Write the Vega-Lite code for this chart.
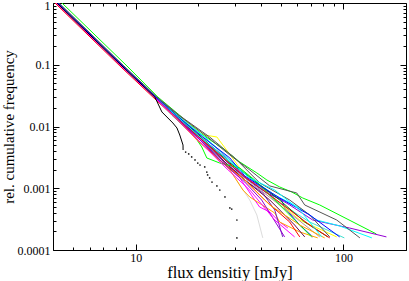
{
  "$schema": "https://vega.github.io/schema/vega-lite/v6.json",
  "width": 353,
  "height": 247,
  "autosize": {"type": "none"},
  "padding": {"left": 53, "top": 3, "right": 3, "bottom": 31},
  "background": "white",
  "config": {"view": {"stroke": "black", "strokeWidth": 1}, "font": "Liberation Serif"},
  "datasets": {
    "lines": [
      {"s":"s02","x":4.23,"y":1},{"s":"s02","x":8.68,"y":0.0955},{"s":"s02","x":12.5,"y":0.03},{"s":"s02","x":15.6,"y":0.0154},{"s":"s02","x":20.4,"y":0.00676},{"s":"s02","x":24.0,"y":0.00416},{"s":"s02","x":28.4,"y":0.00198},{"s":"s02","x":35.4,"y":0.000645},{"s":"s02","x":38.3,"y":0.000369},{"s":"s02","x":40.9,"y":0.000157},
      {"s":"s03","x":4.42,"y":1},{"s":"s03","x":9.08,"y":0.0955},{"s":"s03","x":12.79,"y":0.03},{"s":"s03","x":16.2,"y":0.0154},{"s":"s03","x":20.4,"y":0.00785},{"s":"s03","x":26.9,"y":0.00416},{"s":"s03","x":31.7,"y":0.00266},{"s":"s03","x":38.3,"y":0.00177},{"s":"s03","x":42.8,"y":0.00136},{"s":"s03","x":49.3,"y":0.00105},{"s":"s03","x":56.4,"y":0.000869},{"s":"s03","x":63.7,"y":0.000695},{"s":"s03","x":76.9,"y":0.000536},{"s":"s03","x":144,"y":0.000182},
      {"s":"s04","x":4.18,"y":1},{"s":"s04","x":8.59,"y":0.0955},{"s":"s04","x":12.37,"y":0.03},{"s":"s04","x":15.4,"y":0.0154},{"s":"s04","x":20.4,"y":0.00676},{"s":"s04","x":26.9,"y":0.00287},{"s":"s04","x":33.5,"y":0.00147},{"s":"s04","x":42.8,"y":0.000838},{"s":"s04","x":50.4,"y":0.000645},{"s":"s04","x":52.1,"y":0.000479},{"s":"s04","x":61.6,"y":0.000254},{"s":"s04","x":71.1,"y":0.000163},
      {"s":"s05","x":4.23,"y":1},{"s":"s05","x":8.68,"y":0.0955},{"s":"s05","x":12.5,"y":0.03},{"s":"s05","x":15.9,"y":0.0154},{"s":"s05","x":21.5,"y":0.00728},{"s":"s05","x":24.6,"y":0.00676},{"s":"s05","x":31.7,"y":0.00213},{"s":"s05","x":44.2,"y":0.000778},{"s":"s05","x":61.6,"y":0.000306},{"s":"s05","x":92.8,"y":0.000163},
      {"s":"s06","x":4.18,"y":1},{"s":"s06","x":8.59,"y":0.0955},{"s":"s06","x":12.37,"y":0.03},{"s":"s06","x":15.3,"y":0.0154},{"s":"s06","x":20.4,"y":0.00676},{"s":"s06","x":27.8,"y":0.00238},{"s":"s06","x":33.5,"y":0.00147},{"s":"s06","x":49.3,"y":0.000536},{"s":"s06","x":76.9,"y":0.000163},
      {"s":"s07","x":4.18,"y":1},{"s":"s07","x":8.59,"y":0.0955},{"s":"s07","x":12.37,"y":0.03},{"s":"s07","x":15.5,"y":0.0154},{"s":"s07","x":20.4,"y":0.00676},{"s":"s07","x":26.9,"y":0.00321},{"s":"s07","x":33.5,"y":0.00152},{"s":"s07","x":44.2,"y":0.000838},{"s":"s07","x":55.1,"y":0.000536},{"s":"s07","x":71.1,"y":0.000306},{"s":"s07","x":107,"y":0.000227},{"s":"s07","x":161,"y":0.000163},
      {"s":"s08","x":4.23,"y":1},{"s":"s08","x":8.68,"y":0.0955},{"s":"s08","x":12.5,"y":0.03},{"s":"s08","x":15.8,"y":0.0154},{"s":"s08","x":21.5,"y":0.00676},{"s":"s08","x":28.4,"y":0.00287},{"s":"s08","x":35.4,"y":0.00147},{"s":"s08","x":46.7,"y":0.000778},{"s":"s08","x":61.6,"y":0.000479},{"s":"s08","x":74.3,"y":0.000306},{"s":"s08","x":95.9,"y":0.000245},{"s":"s08","x":137,"y":0.000157},
      {"s":"s09","x":4.14,"y":1},{"s":"s09","x":8.49,"y":0.0955},{"s":"s09","x":12.24,"y":0.03},{"s":"s09","x":15.1,"y":0.0154},{"s":"s09","x":19.9,"y":0.00676},{"s":"s09","x":26.9,"y":0.00238},{"s":"s09","x":31.7,"y":0.00147},{"s":"s09","x":37.4,"y":0.000645},{"s":"s09","x":39.5,"y":0.000497},{"s":"s09","x":44.2,"y":0.000412},{"s":"s09","x":49.3,"y":0.000284},{"s":"s09","x":54.0,"y":0.000227},
      {"s":"s10","x":4.18,"y":1},{"s":"s10","x":8.59,"y":0.0955},{"s":"s10","x":12.37,"y":0.03},{"s":"s10","x":15.2,"y":0.0154},{"s":"s10","x":20.4,"y":0.00604},{"s":"s10","x":28.4,"y":0.00198},{"s":"s10","x":32.8,"y":0.000937},{"s":"s10","x":35.4,"y":0.000722},{"s":"s10","x":46.7,"y":0.000397},{"s":"s10","x":49.3,"y":0.000284},{"s":"s10","x":61.6,"y":0.000196},{"s":"s10","x":75.2,"y":0.000157},
      {"s":"s11","x":4.14,"y":1},{"s":"s11","x":8.49,"y":0.0955},{"s":"s11","x":12.24,"y":0.03},{"s":"s11","x":15.0,"y":0.0154},{"s":"s11","x":19.7,"y":0.00676},{"s":"s11","x":26.0,"y":0.00287},{"s":"s11","x":33.5,"y":0.00136},{"s":"s11","x":40.9,"y":0.000838},{"s":"s11","x":46.7,"y":0.000445},{"s":"s11","x":51.0,"y":0.000163},
      {"s":"s12","x":4.18,"y":1},{"s":"s12","x":8.59,"y":0.0955},{"s":"s12","x":12.37,"y":0.03},{"s":"s12","x":15.4,"y":0.0154},{"s":"s12","x":20.4,"y":0.00651},{"s":"s12","x":26.9,"y":0.00266},{"s":"s12","x":33.5,"y":0.00136},{"s":"s12","x":44.2,"y":0.000645},{"s":"s12","x":58.2,"y":0.000254},{"s":"s12","x":65.1,"y":0.000163},
      {"s":"s13","x":4.23,"y":1},{"s":"s13","x":8.68,"y":0.0955},{"s":"s13","x":12.5,"y":0.03},{"s":"s13","x":15.7,"y":0.0154},{"s":"s13","x":21.5,"y":0.00651},{"s":"s13","x":28.4,"y":0.00287},{"s":"s13","x":34.6,"y":0.00158},{"s":"s13","x":46.7,"y":0.000645},{"s":"s13","x":68.8,"y":0.000284},{"s":"s13","x":101,"y":0.000157},
      {"s":"s14","x":4.18,"y":1},{"s":"s14","x":8.59,"y":0.0955},{"s":"s14","x":12.37,"y":0.03},{"s":"s14","x":15.6,"y":0.0154},{"s":"s14","x":20.4,"y":0.00702},{"s":"s14","x":28.4,"y":0.00256},{"s":"s14","x":35.4,"y":0.00152},{"s":"s14","x":49.3,"y":0.000645},{"s":"s14","x":65.1,"y":0.000284},{"s":"s14","x":84.0,"y":0.000163},
      {"s":"s15","x":4.23,"y":1},{"s":"s15","x":8.68,"y":0.0955},{"s":"s15","x":12.5,"y":0.03},{"s":"s15","x":16.0,"y":0.0154},{"s":"s15","x":22.2,"y":0.00676},{"s":"s15","x":28.4,"y":0.00345},{"s":"s15","x":35.4,"y":0.00198},{"s":"s15","x":44.2,"y":0.00109},{"s":"s15","x":59.6,"y":0.000838},{"s":"s15","x":65.1,"y":0.000536},{"s":"s15","x":92.8,"y":0.000306},{"s":"s15","x":120,"y":0.000157},
      {"s":"s16","x":4.14,"y":1},{"s":"s16","x":8.49,"y":0.0955},{"s":"s16","x":12.24,"y":0.03},{"s":"s16","x":14.9,"y":0.0154},{"s":"s16","x":19.3,"y":0.00676},{"s":"s16","x":20.8,"y":0.00466},{"s":"s16","x":22.0,"y":0.00309},{"s":"s16","x":25.4,"y":0.00256},{"s":"s16","x":31.7,"y":0.00213},{"s":"s16","x":37.4,"y":0.00136},{"s":"s16","x":46.7,"y":0.000645},{"s":"s16","x":58.2,"y":0.000306},{"s":"s16","x":70.3,"y":0.000163},
      {"s":"s17","x":4.09,"y":1},{"s":"s17","x":8.40,"y":0.0955},{"s":"s17","x":12.1,"y":0.03},{"s":"s17","x":15.0,"y":0.0154},{"s":"s17","x":20.4,"y":0.00651},{"s":"s17","x":26.0,"y":0.00321},{"s":"s17","x":33.5,"y":0.00152},{"s":"s17","x":44.2,"y":0.000778},{"s":"s17","x":55.1,"y":0.000445},{"s":"s17","x":68.8,"y":0.000254},{"s":"s17","x":85.9,"y":0.000157},
      {"s":"s18","x":4.28,"y":1},{"s":"s18","x":8.78,"y":0.0955},{"s":"s18","x":12.65,"y":0.03},{"s":"s18","x":16.1,"y":0.0154},{"s":"s18","x":22.7,"y":0.00676},{"s":"s18","x":30.0,"y":0.00309},{"s":"s18","x":39.5,"y":0.00122},{"s":"s18","x":55.1,"y":0.000645},{"s":"s18","x":68.8,"y":0.000369},{"s":"s18","x":85.9,"y":0.000163},
      {"s":"s19","x":4.14,"y":1},{"s":"s19","x":8.49,"y":0.0955},{"s":"s19","x":12.24,"y":0.03},{"s":"s19","x":15.2,"y":0.0154},{"s":"s19","x":19.9,"y":0.00604},{"s":"s19","x":25.4,"y":0.00287},{"s":"s19","x":33.5,"y":0.00136},{"s":"s19","x":41.8,"y":0.000645},{"s":"s19","x":55.1,"y":0.000284},{"s":"s19","x":61.6,"y":0.000163},
      {"s":"s20","x":4.23,"y":1},{"s":"s20","x":8.68,"y":0.0955},{"s":"s20","x":12.5,"y":0.03},{"s":"s20","x":15.6,"y":0.0154},{"s":"s20","x":21.0,"y":0.00676},{"s":"s20","x":28.4,"y":0.00309},{"s":"s20","x":33.5,"y":0.00158},{"s":"s20","x":49.3,"y":0.000695},{"s":"s20","x":68.8,"y":0.000369},{"s":"s20","x":95.9,"y":0.000163},
      {"s":"s21","x":4.14,"y":1},{"s":"s21","x":8.49,"y":0.0955},{"s":"s21","x":12.24,"y":0.03},{"s":"s21","x":15.1,"y":0.0154},{"s":"s21","x":19.7,"y":0.00604},{"s":"s21","x":26.9,"y":0.00238},{"s":"s21","x":33.5,"y":0.00136},{"s":"s21","x":44.2,"y":0.000536},{"s":"s21","x":61.6,"y":0.000254},{"s":"s21","x":81.2,"y":0.000157},
      {"s":"s22","x":4.18,"y":1},{"s":"s22","x":8.59,"y":0.0955},{"s":"s22","x":12.37,"y":0.03},{"s":"s22","x":15.5,"y":0.0154},{"s":"s22","x":20.4,"y":0.00676},{"s":"s22","x":27.8,"y":0.00287},{"s":"s22","x":35.4,"y":0.00147},{"s":"s22","x":46.7,"y":0.000937},{"s":"s22","x":61.6,"y":0.000445},{"s":"s22","x":78.6,"y":0.000163},
      {"s":"s23","x":4.18,"y":1},{"s":"s23","x":8.59,"y":0.0955},{"s":"s23","x":12.37,"y":0.03},{"s":"s23","x":15.3,"y":0.0154},{"s":"s23","x":20.4,"y":0.00604},{"s":"s23","x":26.0,"y":0.00266},{"s":"s23","x":33.5,"y":0.00126},{"s":"s23","x":40.4,"y":0.000645},{"s":"s23","x":52.1,"y":0.000163},
      {"s":"s24","x":4.14,"y":1},{"s":"s24","x":8.49,"y":0.0955},{"s":"s24","x":12.24,"y":0.03},{"s":"s24","x":15.0,"y":0.0154},{"s":"s24","x":19.9,"y":0.00604},{"s":"s24","x":26.9,"y":0.00221},{"s":"s24","x":35.4,"y":0.000937},{"s":"s24","x":46.7,"y":0.000306},{"s":"s24","x":58.2,"y":0.000163},
      {"s":"s25","x":4.18,"y":1},{"s":"s25","x":8.59,"y":0.0955},{"s":"s25","x":12.37,"y":0.03},{"s":"s25","x":13.37,"y":0.0172},{"s":"s25","x":15.1,"y":0.0114},{"s":"s25","x":15.8,"y":0.00946},{"s":"s25","x":16.3,"y":0.00728},{"s":"s25","x":16.9,"y":0.00501},{"s":"s25","x":16.91,"y":0.00416}
    ],
    "dots": [
      {"x":17.4,"y":0.00386},{"x":18.0,"y":0.00359},{"x":18.6,"y":0.00321},{"x":19.3,"y":0.00287},{"x":19.9,"y":0.00256},{"x":20.4,"y":0.00238},{"x":21.5,"y":0.00221},{"x":22.0,"y":0.00183},{"x":22.2,"y":0.00164},{"x":22.7,"y":0.00147},{"x":23.3,"y":0.00126},{"x":24.6,"y":0.00109},{"x":25.4,"y":0.000937},{"x":26.9,"y":0.000722},{"x":28.4,"y":0.000479},{"x":29.0,"y":0.000461},{"x":30.7,"y":0.000306},{"x":30.7,"y":0.000157}
    ]
  },
  "layer": [
    {
      "data": {"name": "lines"},
      "mark": {"type": "line", "strokeWidth": 1, "clip": true},
      "encoding": {
        "x": {"field": "x", "type": "quantitative",
          "scale": {"type": "log", "domain": [4, 200], "nice": false},
          "axis": {"orient": "bottom", "title": "flux densitiy [mJy]", "titleFont": "Liberation Serif", "titleFontSize": 16.5, "titleFontWeight": "normal", "titleColor": "black", "titlePadding": 1,
            "values": [10, 100], "format": "~g", "ticks": false, "tickSize": 0,
            "labelFont": "Liberation Serif", "labelFontSize": 12, "labelColor": "black", "labelOverlap": false, "labelFlush": false, "labelPadding": 2,
            "domainColor": "black", "grid": false}},
        "y": {"field": "y", "type": "quantitative",
          "scale": {"type": "log", "domain": [0.0001, 1], "nice": false},
          "axis": {"orient": "left", "title": "rel. cumulative frequency", "titleFont": "Liberation Serif", "titleFontSize": 15, "titleFontWeight": "normal", "titleColor": "black", "titlePadding": 1,
            "values": [0.0001, 0.001, 0.01, 0.1, 1], "format": "~g", "ticks": false, "tickSize": 0,
            "labelFont": "Liberation Serif", "labelFontSize": 12, "labelColor": "black", "labelOverlap": false, "labelFlush": false, "labelPadding": 3,
            "labelOffset": {"condition": {"test": "datum.value == 1", "value": 2}, "value": 0},
            "domainColor": "black", "grid": false}},
        "color": {"field": "s", "type": "nominal", "legend": null,
          "scale": {"domain": ["s02","s03","s04","s05","s06","s07","s08","s09","s10","s11","s12","s13","s14","s15","s16","s17","s18","s19","s20","s21","s22","s23","s24","s25"],
            "range": ["#dcdcdc","#00ff00","#0000ff","#ffff00","#bc8f8f","#9400d3","#00ffff","#ff00ff","#ffa500","#7221bc","#670748","#40e0d0","#008b00","#555555","#00ff00","#ff0000","#555555","#ff0000","#0000ff","#ffa500","#00ffff","#9400d3","#ff00ff","#000000"]}}
      }
    },
    {
      "data": {"name": "dots"},
      "mark": {"type": "point", "filled": true, "size": 3, "color": "#222222", "opacity": 1},
      "encoding": {
        "x": {"field": "x", "type": "quantitative",
          "axis": {"orient": "top", "offset": -247, "title": null, "labels": false, "domain": false, "tickColor": "black", "grid": false,
            "values": [5,6,7,8,9,10,20,30,40,50,60,70,80,90,100,200],
            "tickSize": {"condition": {"test": "datum.value == 10 || datum.value == 100", "value": 6}, "value": 3}}},
        "y": {"field": "y", "type": "quantitative",
          "axis": {"orient": "right", "offset": -353, "title": null, "labels": false, "domain": false, "tickColor": "black", "grid": false,
            "values": [0.0002,0.0003,0.0004,0.0005,0.0006,0.0007,0.0008,0.0009,0.001,0.002,0.003,0.004,0.005,0.006,0.007,0.008,0.009,0.01,0.02,0.03,0.04,0.05,0.06,0.07,0.08,0.09,0.1,0.2,0.3,0.4,0.5,0.6,0.7,0.8,0.9],
            "tickSize": {"condition": {"test": "datum.value == 0.1 || datum.value == 0.01 || datum.value == 0.001", "value": 6}, "value": 3}}}
      }
    },
    {
      "data": {"name": "dots"},
      "mark": {"type": "point", "opacity": 0},
      "encoding": {
        "x": {"field": "x", "type": "quantitative",
          "axis": {"orient": "bottom", "offset": -247, "title": null, "labels": false, "domain": false, "tickColor": "black", "grid": false,
            "values": [5,6,7,8,9,10,20,30,40,50,60,70,80,90,100,200],
            "tickSize": {"condition": {"test": "datum.value == 10 || datum.value == 100", "value": 6}, "value": 3}}},
        "y": {"field": "y", "type": "quantitative",
          "axis": {"orient": "left", "offset": -353, "title": null, "labels": false, "domain": false, "tickColor": "black", "grid": false,
            "values": [0.0002,0.0003,0.0004,0.0005,0.0006,0.0007,0.0008,0.0009,0.001,0.002,0.003,0.004,0.005,0.006,0.007,0.008,0.009,0.01,0.02,0.03,0.04,0.05,0.06,0.07,0.08,0.09,0.1,0.2,0.3,0.4,0.5,0.6,0.7,0.8,0.9],
            "tickSize": {"condition": {"test": "datum.value == 0.1 || datum.value == 0.01 || datum.value == 0.001", "value": 6}, "value": 3}}}
      }
    }
  ],
  "resolve": {"axis": {"x": "independent", "y": "independent"}}
}
